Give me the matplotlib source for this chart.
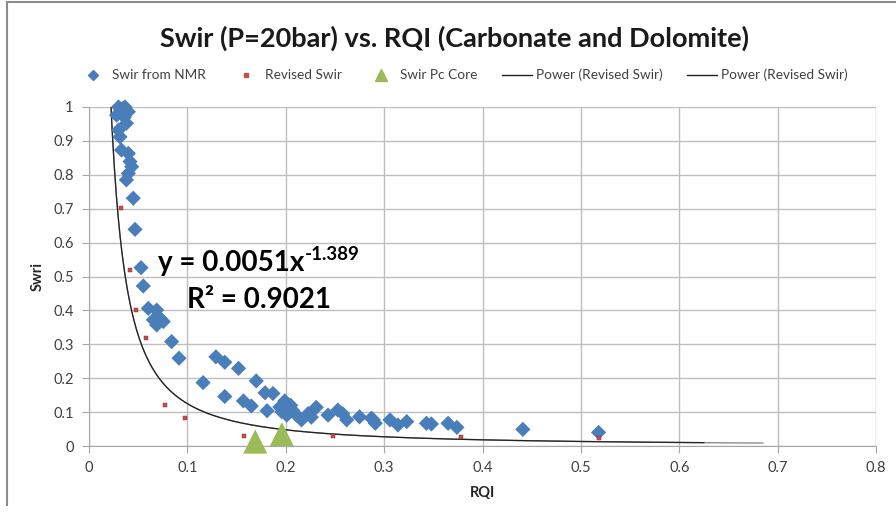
import numpy as np
import matplotlib
matplotlib.use("Agg")
import matplotlib.pyplot as plt
from matplotlib.lines import Line2D

plt.rcParams['font.family'] = ['Lato', 'DejaVu Sans']

# Swir from NMR (blue diamonds)
nmr_rqi = [0.030, 0.0366, 0.040, 0.028, 0.038, 0.030, 0.0315, 0.033, 0.040, 0.0417,
           0.0434, 0.040, 0.038, 0.045, 0.0468, 0.0529, 0.0552, 0.0603, 0.0688, 0.0654,
           0.0722, 0.0755, 0.0688, 0.084, 0.0915, 0.129, 0.138, 0.152, 0.116, 0.170,
           0.179, 0.187, 0.138, 0.157, 0.165, 0.181, 0.199, 0.196, 0.201, 0.211,
           0.216, 0.223, 0.231, 0.243, 0.253, 0.262, 0.275, 0.287, 0.291, 0.289,
           0.306, 0.314, 0.323, 0.343, 0.348, 0.365, 0.374, 0.441, 0.518, 0.034,
           0.033, 0.036, 0.205, 0.207, 0.226, 0.258, 0.194]
nmr_swir = [1.0, 1.0, 0.986, 0.976, 0.952, 0.932, 0.912, 0.873, 0.863, 0.839,
            0.824, 0.804, 0.785, 0.731, 0.639, 0.526, 0.472, 0.406, 0.401, 0.372,
            0.377, 0.367, 0.357, 0.308, 0.259, 0.263, 0.247, 0.229, 0.187, 0.192,
            0.157, 0.155, 0.146, 0.133, 0.118, 0.104, 0.133, 0.101, 0.091, 0.091,
            0.077, 0.096, 0.114, 0.091, 0.106, 0.077, 0.086, 0.082, 0.067, 0.077,
            0.077, 0.062, 0.072, 0.067, 0.065, 0.067, 0.055, 0.049, 0.040, 0.995,
            0.99, 0.97, 0.12, 0.105, 0.085, 0.095, 0.115]

# Revised Swir (red points)
rev_rqi = [0.0325, 0.0417, 0.0475, 0.0576, 0.0776, 0.098, 0.158, 0.248, 0.378, 0.518]
rev_swir = [0.701, 0.519, 0.401, 0.319, 0.120, 0.082, 0.029, 0.029, 0.026, 0.023]

# Swir Pc Core (green triangles)
pc_rqi = [0.169, 0.196]
pc_swir = [0.013, 0.035]

# Power trendline: y = 0.0051 x^-1.389
coef_a = 0.0051
coef_b = -1.389
trend1_range = (0.0215, 0.625)
trend2_range = (0.0215, 0.685)

fig = plt.figure(figsize=(8.96, 5.18), dpi=100)
ax = fig.add_axes([89/896, 1-446/518, (876-89)/896, (446-107)/518])

blue = '#4A7EBB'
red = '#C0504D'
green = '#9BBB59'

x2 = np.linspace(*trend2_range, 600)
ax.plot(x2, coef_a * x2 ** coef_b, color='#8C8C8C', lw=1.0, zorder=2)
x1 = np.linspace(*trend1_range, 600)
ax.plot(x1, coef_a * x1 ** coef_b, color='#222222', lw=0.9, zorder=2)

ax.scatter(nmr_rqi, nmr_swir, marker='D', s=60, color=blue, edgecolors='none', zorder=3, clip_on=False)
ax.scatter(rev_rqi, rev_swir, marker='s', s=7, color=red, edgecolors='#7F2A28', linewidths=0.3, zorder=4)
ax.scatter(pc_rqi, pc_swir, marker='^', s=300, color=green, edgecolors='none', zorder=5, clip_on=False)

ax.set_xlim(0, 0.8)
ax.set_ylim(0, 1)
ax.set_xticks(np.arange(0, 0.81, 0.1))
ax.set_yticks(np.arange(0, 1.01, 0.1))
ax.set_xticklabels(['0', '0.1', '0.2', '0.3', '0.4', '0.5', '0.6', '0.7', '0.8'])
ax.set_yticklabels(['0', '0.1', '0.2', '0.3', '0.4', '0.5', '0.6', '0.7', '0.8', '0.9', '1'])
ax.grid(True, color='#BEBEBE', lw=1.0)
ax.set_axisbelow(True)
for s in ['top', 'right']:
    ax.spines[s].set_visible(False)
for s in ['left', 'bottom']:
    ax.spines[s].set_color('#A6A6A6')
ax.tick_params(axis='both', colors='#A6A6A6', length=5, labelcolor='#404040', labelsize=10.5)
ax.tick_params(axis='x', pad=6)
ax.tick_params(axis='y', pad=6)

ax.set_xlabel('RQI', fontsize=10.5, fontweight='bold', color='#262626', labelpad=8)
ax.set_ylabel('Swri', fontsize=10.5, fontweight='bold', color='#262626', labelpad=6)

fig.text(454/896, 1-38/518, 'Swir (P=20bar) vs. RQI (Carbonate and Dolomite)',
         ha='center', va='center', fontsize=19.5, fontweight='bold', color='#1a1a1a')

# trendline equation
eq = fig.text(158/896, 1-263/518, 'y = 0.0051x', ha='left', va='center',
              fontsize=20, fontweight='bold', color='black')
fig.canvas.draw()
bb = eq.get_window_extent()
fig.text(bb.x1/896 + 0.001, 1-255/518, '-1.389', ha='left', va='center',
         fontsize=13.5, fontweight='bold', color='black')
fig.text(187/896, 1-300/518, 'R\u00b2 = 0.9021', ha='left', va='center',
         fontsize=20, fontweight='bold', color='black')

handles = [
    Line2D([], [], marker='D', color=blue, ls='none', markersize=5),
    Line2D([], [], marker='s', color=red, ls='none', markersize=2.5),
    Line2D([], [], marker='^', color=green, ls='none', markersize=8),
    Line2D([], [], color='#222222', lw=1.0),
    Line2D([], [], color='#222222', lw=1.0),
]
labels = ['Swir from NMR', 'Revised Swir', 'Swir Pc Core', 'Power (Revised Swir)', 'Power (Revised Swir)']
fig.legend(handles, labels, loc='center', bbox_to_anchor=(463/896, 1-75/518), ncol=5,
           frameon=False, fontsize=9.8, handlelength=2.2, handletextpad=0.3, columnspacing=1.8,
           labelcolor='#404040')

# outer chart frame
fig.add_artist(Line2D([7/896, 7/896], [1-505/518, 1-2/518], color='#8C8C8C', lw=1.5, transform=fig.transFigure))
fig.add_artist(Line2D([7/896, 1.0], [1-2/518, 1-2/518], color='#8C8C8C', lw=1.5, transform=fig.transFigure))

fig.savefig('out.png', dpi=100)
